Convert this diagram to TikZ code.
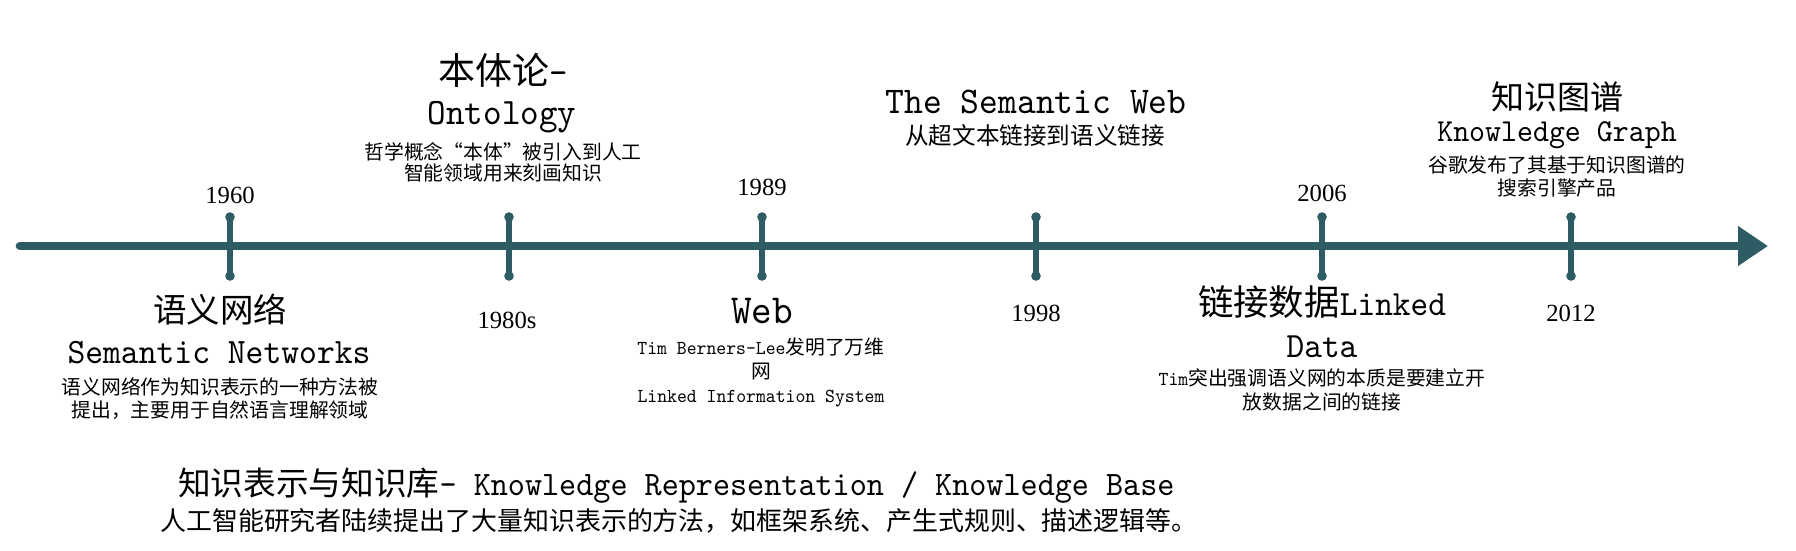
\documentclass[tikz,border=0pt]{standalone}
\usepackage{fontspec}
\usetikzlibrary{arrows.meta}
\setmainfont{Liberation Serif}
\newfontfamily\zh{Noto Sans CJK SC}
\newfontfamily\mono{lmmono10-regular}[Extension=.otf,FakeStretch=0.95]
\definecolor{lineteal}{RGB}{46,92,100}

\begin{document}
\begin{tikzpicture}[x=0.75pt,y=0.75pt,yscale=-1,xscale=1,
  axis/.style={draw=lineteal,line width=6.5pt,line cap=round},
  tickmark/.style={draw=lineteal,line width=5pt,line cap=round},
  yearlbl/.style={font=\rmfamily\fontsize{18.5}{20}\selectfont,inner sep=0pt},
  bigzh/.style={font=\zh\fontsize{#1}{#1}\selectfont,inner sep=0pt},
  bigen/.style={font=\mono\fontsize{#1}{#1}\selectfont,inner sep=0pt},
  desc/.style={font=\zh\fontsize{14.85}{#1}\selectfont,align=center,inner sep=0pt}]
\useasboundingbox[fill=white] (0,0) rectangle (1796,550);

%Timeline with arrow
\coordinate (start) at (20,246);
\coordinate (tip) at (1768,246);
\draw[axis,-{Triangle[length=22.5pt,width=28.5pt]}] (start) -- (tip);

%Tick marks
\foreach \x/\n in {230/1960,509/1980,762/1989,1036/1998,1322/2006,1571/2012}{
  \coordinate (t\n) at (\x,246);
  \draw[tickmark] (\x,217) -- (\x,276);
  \fill[lineteal] (\x,217) circle (3.6pt) (\x,276) circle (3.6pt);
}

% Year labels
\node[yearlbl] (y1960) at (230,195) {1960};
\node[yearlbl] (y1980) at (507,320) {1980s};
\node[yearlbl] (y1989) at (762,187) {1989};
\node[yearlbl] (y1998) at (1036,313) {1998};
\node[yearlbl] (y2006) at (1322,193) {2006};
\node[yearlbl] (y2012) at (1571,313) {2012};

% Text Node: semantic networks
\node[bigzh=25.1] (semzh) at (220,310) {语义网络};
\node[bigen=26.8] (semen) at (219,353) {Semantic Networks};
\node[desc=17.25] (semdesc) at (220,398.5) {语义网络作为知识表示的一种方法被\\提出，主要用于自然语言理解领域};

% Text Node: ontology
\node[bigzh=27.75] (ontzh) at (503,70) {本体论{\mono -}};
\node[bigen=27.9] (onten) at (502,117) {Ontology};
\node[desc=15.75] (ontdesc) at (503,162.5) {哲学概念“本体”被引入到人工\\智能领域用来刻画知识};

% Text Node: web
\node[bigen=31] (webtitle) at (762,311) {Web};
\node[desc=18] (webdesc) at (761,372) {{\mono Tim Berners-Lee}发明了万维\\网\\{\mono Linked Information System}};

% Text Node: semantic web
\node[bigen=28.3] (swtitle) at (1036,102) {The Semantic Web};
\node[desc=18,font=\zh\fontsize{17.7}{18}\selectfont] (swdesc) at (1035,135) {从超文本链接到语义链接};

% Text Node: linked data
\node[bigzh=26.6] (ldzh) at (1322,302) {链接数据{\mono Linked}};
\node[bigen=26.6] (lden) at (1322,347) {Data};
\node[desc=18] (lddesc) at (1322,390) {{\mono Tim}突出强调语义网的本质是要建立开\\放数据之间的链接};

% Text Node: knowledge graph
\node[bigzh=24.75] (kgzh) at (1557,97) {知识图谱};
\node[bigen=24] (kgen) at (1557,135) {Knowledge Graph};
\node[desc=17.25] (kgdesc) at (1557,176.5) {谷歌发布了其基于知识图谱的\\搜索引擎产品};

% Text Node: knowledge base
\node[bigzh=24.5,anchor=west] (kbtitle) at (178,486) {知识表示与知识库{\mono\fontsize{25.7}{26}\selectfont - Knowledge Representation / Knowledge Base}};
\node[font=\zh\fontsize{19.45}{20}\selectfont,inner sep=0pt,anchor=west] (kbdesc) at (160,521) {人工智能研究者陆续提出了大量知识表示的方法，如框架系统、产生式规则、描述逻辑等。};

\end{tikzpicture}
\end{document}
